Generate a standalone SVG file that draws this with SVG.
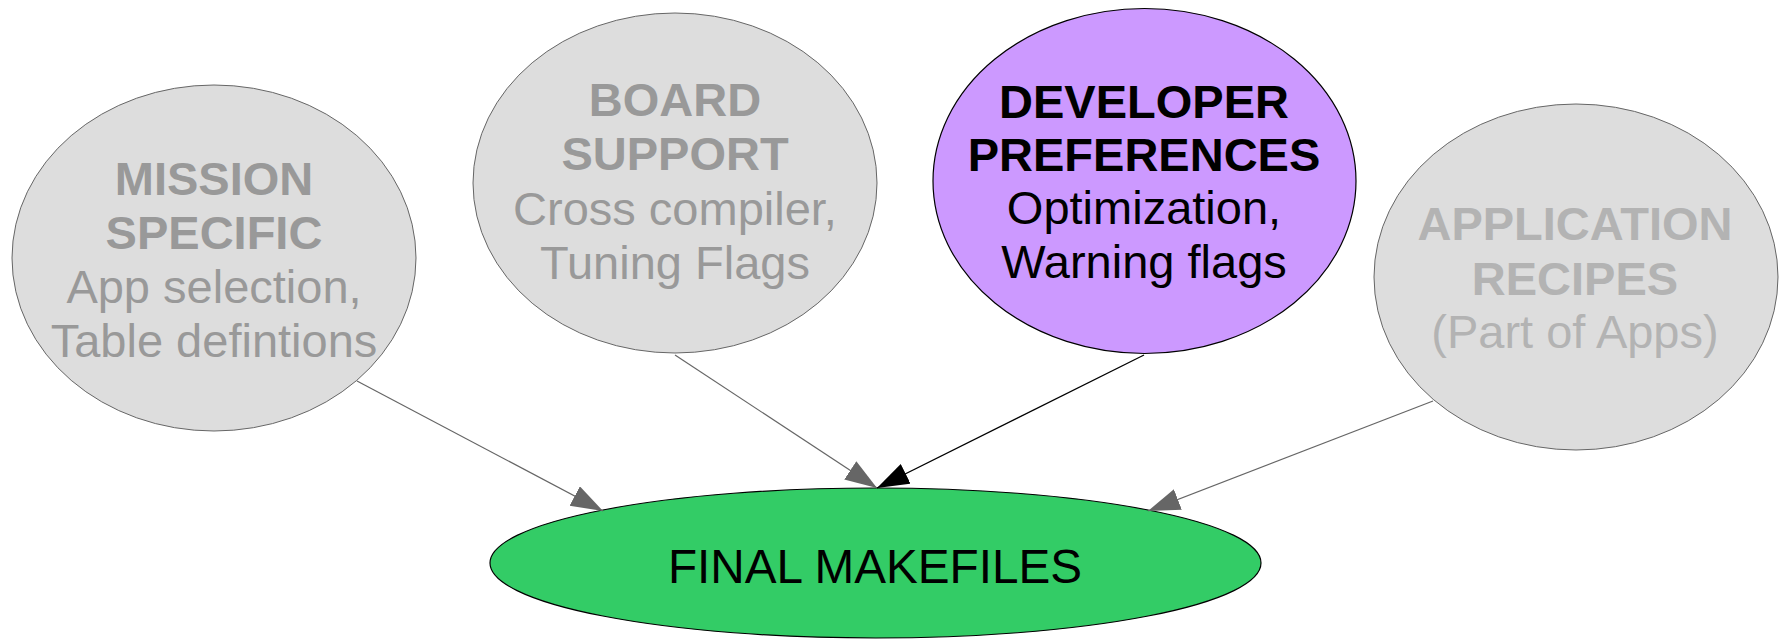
<svg xmlns="http://www.w3.org/2000/svg" width="1780" height="640" viewBox="0 0 1780 640">
  <style>
    text { font-family: "Liberation Sans", Arial, sans-serif; text-anchor: middle; }
    .b { font-weight: bold; font-size: 47px; }
    .r { font-size: 47px; }
    .muted text { fill: #999999; }
    .faint text { fill: #b3b3b3; }
    .grey-node { fill: #dddddd; stroke: #666666; stroke-width: 1; }
    .edge-grey { stroke: #666666; stroke-width: 1.2; fill: none; }
    .edge-dark { stroke: #000000; stroke-width: 1.3; fill: none; }
  </style>
  <defs>
    <marker id="head-grey" markerUnits="userSpaceOnUse" markerWidth="34" markerHeight="24" refX="32" refY="11" orient="auto">
      <path d="M0,0 L32,11 L0,22 Z" fill="#666666"/>
    </marker>
    <marker id="head-dark" markerUnits="userSpaceOnUse" markerWidth="34" markerHeight="24" refX="32" refY="11" orient="auto">
      <path d="M0,0 L32,11 L0,22 Z" fill="#000000"/>
    </marker>
  </defs>

  <rect width="1780" height="640" fill="#ffffff"/>

  <!-- target node -->
  <g id="final-makefiles">
    <ellipse cx="875.5" cy="563" rx="385.5" ry="75" fill="#33cc66" stroke="#000000" stroke-width="1.2"/>
    <text x="875" y="583" font-size="48" fill="#000000" textLength="414" lengthAdjust="spacingAndGlyphs">FINAL MAKEFILES</text>
  </g>

  <!-- source nodes -->
  <g id="mission-specific" class="muted">
    <ellipse class="grey-node" cx="214" cy="258" rx="202" ry="173"/>
    <text class="b" x="214" y="195">MISSION</text>
    <text class="b" x="214" y="249">SPECIFIC</text>
    <text class="r" x="214" y="303">App selection,</text>
    <text class="r" x="214" y="357">Table defintions</text>
  </g>

  <g id="board-support" class="muted">
    <ellipse class="grey-node" cx="675" cy="183" rx="202" ry="170"/>
    <text class="b" x="675" y="116">BOARD</text>
    <text class="b" x="675" y="170">SUPPORT</text>
    <text class="r" x="675" y="225">Cross compiler,</text>
    <text class="r" x="675" y="279">Tuning Flags</text>
  </g>

  <g id="developer-preferences">
    <ellipse cx="1144.5" cy="181" rx="211.5" ry="172.5" fill="#cc99ff" stroke="#000000" stroke-width="1.2"/>
    <text class="b" x="1144" y="118" fill="#000000">DEVELOPER</text>
    <text class="b" x="1144" y="171" fill="#000000">PREFERENCES</text>
    <text class="r" x="1144" y="224" fill="#000000">Optimization,</text>
    <text class="r" x="1144" y="278" fill="#000000">Warning flags</text>
  </g>

  <g id="application-recipes" class="faint">
    <ellipse class="grey-node" cx="1576" cy="277" rx="202" ry="173"/>
    <text class="b" x="1575" y="240">APPLICATION</text>
    <text class="b" x="1575" y="295">RECIPES</text>
    <text class="r" x="1575" y="348">(Part of Apps)</text>
  </g>

  <!-- connectors -->
  <g id="connectors">
    <line class="edge-grey" x1="357" y1="381" x2="603" y2="511" marker-end="url(#head-grey)"/>
    <line class="edge-grey" x1="675" y1="355" x2="877" y2="488" marker-end="url(#head-grey)"/>
    <line class="edge-dark" x1="1144" y1="355" x2="877" y2="488" marker-end="url(#head-dark)"/>
    <line class="edge-grey" x1="1433" y1="401" x2="1148" y2="511" marker-end="url(#head-grey)"/>
  </g>
</svg>
